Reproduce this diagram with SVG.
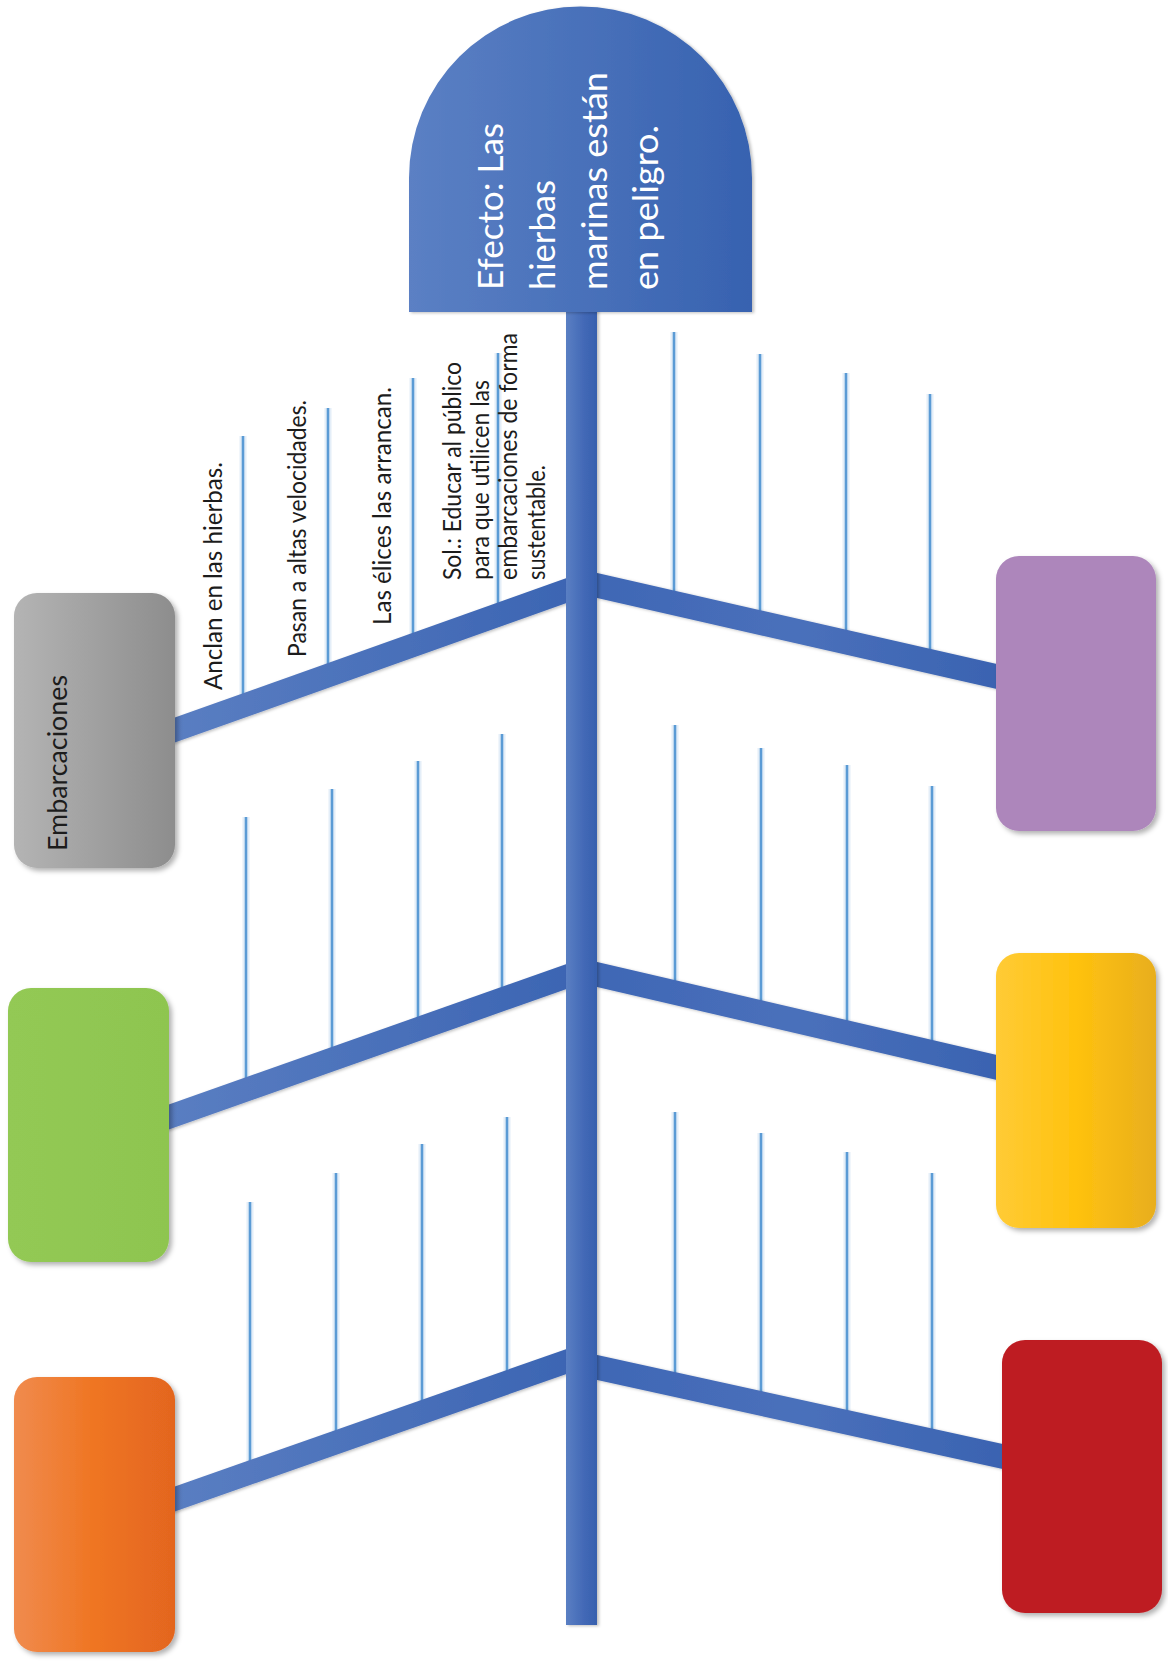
<svg xmlns="http://www.w3.org/2000/svg" width="1168" height="1661" viewBox="0 0 1168 1661">
  <defs>
    <linearGradient id="gHead" x1="0" y1="0" x2="1" y2="0">
      <stop offset="0" stop-color="#5b80c4"/>
      <stop offset="1" stop-color="#3762b0"/>
    </linearGradient>
    <linearGradient id="gSpine" x1="0" y1="0" x2="1" y2="0">
      <stop offset="0" stop-color="#5a7fc3"/>
      <stop offset="0.6" stop-color="#4268b6"/>
      <stop offset="1" stop-color="#3760ae"/>
    </linearGradient>
    <linearGradient id="gBarL" x1="0" y1="0" x2="1" y2="0">
      <stop offset="0" stop-color="#5a7ec2"/>
      <stop offset="1" stop-color="#3c65b3"/>
    </linearGradient>
    <linearGradient id="gBarR" x1="0" y1="0" x2="1" y2="0">
      <stop offset="0" stop-color="#3f67b5"/>
      <stop offset="0.5" stop-color="#4a70bb"/>
      <stop offset="1" stop-color="#3a63b1"/>
    </linearGradient>
    <linearGradient id="gGray" x1="0" y1="0" x2="1" y2="0">
      <stop offset="0" stop-color="#b4b4b4"/>
      <stop offset="1" stop-color="#8d8d8d"/>
    </linearGradient>
    <linearGradient id="gOrange" x1="0" y1="0" x2="1" y2="0">
      <stop offset="0" stop-color="#f08b4e"/>
      <stop offset="0.5" stop-color="#ef7522"/>
      <stop offset="1" stop-color="#e3651f"/>
    </linearGradient>
    <linearGradient id="gYellow" x1="0" y1="0" x2="1" y2="0">
      <stop offset="0" stop-color="#ffcb36"/>
      <stop offset="0.5" stop-color="#ffc20e"/>
      <stop offset="1" stop-color="#e8ae1e"/>
    </linearGradient>
    <linearGradient id="gGreen" x1="0" y1="0" x2="1" y2="0">
      <stop offset="0" stop-color="#93c954"/>
      <stop offset="1" stop-color="#8ec550"/>
    </linearGradient>
    <filter id="shadow" x="-10%" y="-10%" width="130%" height="130%">
      <feDropShadow dx="3" dy="3" stdDeviation="2.5" flood-color="#000" flood-opacity="0.3"/>
    </filter>
    <filter id="soft" x="-20%" y="-5%" width="140%" height="110%">
      <feDropShadow dx="2" dy="1" stdDeviation="1.5" flood-color="#000" flood-opacity="0.25"/>
    </filter>
  </defs>
  <style>
    .rib { stroke: #5b9bd5; stroke-width: 2.6; fill: none; }
    .halo { stroke: #e4eef8; stroke-width: 7; fill: none; }
    .label { font-family: Lato, "Open Sans", sans-serif; font-size: 24.5px; fill: #1c1c1c; }
    .head-text { font-family: Lato, "Open Sans", sans-serif; font-size: 35px; fill: #ffffff; }
    .box { filter: url(#shadow); }
  </style>
  <rect width="1168" height="1661" fill="#ffffff"/>

  <!-- connectors: ribs, branch bars and spine -->
  <g id="connectors">
    <g id="ribs">
      <!-- left upper -->
      <line class="halo" x1="243" y1="436" x2="243" y2="700"/>
      <line class="halo" x1="328" y1="408" x2="328" y2="670"/>
      <line class="halo" x1="413" y1="378" x2="413" y2="640"/>
      <line class="halo" x1="498" y1="353" x2="498" y2="610"/>
      <line class="rib" x1="243" y1="436" x2="243" y2="700"/>
      <line class="rib" x1="328" y1="408" x2="328" y2="670"/>
      <line class="rib" x1="413" y1="378" x2="413" y2="640"/>
      <line class="rib" x1="498" y1="353" x2="498" y2="610"/>
      <!-- left middle -->
      <line class="halo" x1="246" y1="817" x2="246" y2="1090"/>
      <line class="halo" x1="332" y1="789" x2="332" y2="1060"/>
      <line class="halo" x1="418" y1="761" x2="418" y2="1030"/>
      <line class="halo" x1="502" y1="734" x2="502" y2="1000"/>
      <line class="rib" x1="246" y1="817" x2="246" y2="1090"/>
      <line class="rib" x1="332" y1="789" x2="332" y2="1060"/>
      <line class="rib" x1="418" y1="761" x2="418" y2="1030"/>
      <line class="rib" x1="502" y1="734" x2="502" y2="1000"/>
      <!-- left lower -->
      <line class="halo" x1="250" y1="1202" x2="250" y2="1470"/>
      <line class="halo" x1="336" y1="1173" x2="336" y2="1440"/>
      <line class="halo" x1="422" y1="1144" x2="422" y2="1410"/>
      <line class="halo" x1="507" y1="1117" x2="507" y2="1380"/>
      <line class="rib" x1="250" y1="1202" x2="250" y2="1470"/>
      <line class="rib" x1="336" y1="1173" x2="336" y2="1440"/>
      <line class="rib" x1="422" y1="1144" x2="422" y2="1410"/>
      <line class="rib" x1="507" y1="1117" x2="507" y2="1380"/>
      <!-- right upper -->
      <line class="halo" x1="674" y1="332" x2="674" y2="600"/>
      <line class="halo" x1="760" y1="354" x2="760" y2="620"/>
      <line class="halo" x1="846" y1="373" x2="846" y2="640"/>
      <line class="halo" x1="930" y1="394" x2="930" y2="660"/>
      <line class="rib" x1="674" y1="332" x2="674" y2="600"/>
      <line class="rib" x1="760" y1="354" x2="760" y2="620"/>
      <line class="rib" x1="846" y1="373" x2="846" y2="640"/>
      <line class="rib" x1="930" y1="394" x2="930" y2="660"/>
      <!-- right middle -->
      <line class="halo" x1="675" y1="725" x2="675" y2="990"/>
      <line class="halo" x1="761" y1="748" x2="761" y2="1010"/>
      <line class="halo" x1="847" y1="765" x2="847" y2="1030"/>
      <line class="halo" x1="932" y1="786" x2="932" y2="1050"/>
      <line class="rib" x1="675" y1="725" x2="675" y2="990"/>
      <line class="rib" x1="761" y1="748" x2="761" y2="1010"/>
      <line class="rib" x1="847" y1="765" x2="847" y2="1030"/>
      <line class="rib" x1="932" y1="786" x2="932" y2="1050"/>
      <!-- right lower -->
      <line class="halo" x1="675" y1="1112" x2="675" y2="1385"/>
      <line class="halo" x1="761" y1="1133" x2="761" y2="1405"/>
      <line class="halo" x1="847" y1="1152" x2="847" y2="1425"/>
      <line class="halo" x1="932" y1="1173" x2="932" y2="1445"/>
      <line class="rib" x1="675" y1="1112" x2="675" y2="1385"/>
      <line class="rib" x1="761" y1="1133" x2="761" y2="1405"/>
      <line class="rib" x1="847" y1="1152" x2="847" y2="1425"/>
      <line class="rib" x1="932" y1="1173" x2="932" y2="1445"/>
    </g>
    <g id="bars" filter="url(#soft)">
      <polygon fill="url(#gBarL)" points="172,718.5 568,577.5 568,602.5 172,743.5"/>
      <polygon fill="url(#gBarL)" points="166,1105.5 568,963.5 568,988.5 166,1130.5"/>
      <polygon fill="url(#gBarL)" points="172,1487.5 568,1348.5 568,1373.5 172,1512.5"/>
      <polygon fill="url(#gBarR)" points="595,572.5 999,664.5 999,689.5 595,597.5"/>
      <polygon fill="url(#gBarR)" points="595,961.5 999,1055.5 999,1080.5 595,986.5"/>
      <polygon fill="url(#gBarR)" points="595,1354.5 1005,1444.5 1005,1469.5 595,1379.5"/>
    </g>
    <rect id="spine" x="566" y="300" width="31" height="1325" fill="url(#gSpine)" filter="url(#soft)"/>
  </g>

  <!-- effect head -->
  <g id="head">
    <path d="M409,312 V178 A171.5,171.5 0 0 1 752,178 V312 Z" fill="url(#gHead)" filter="url(#soft)"/>
    <text class="head-text" transform="translate(503,290) rotate(-90)" textLength="167" lengthAdjust="spacingAndGlyphs">Efecto: Las</text>
    <text class="head-text" transform="translate(555,290) rotate(-90)" textLength="110" lengthAdjust="spacingAndGlyphs">hierbas</text>
    <text class="head-text" transform="translate(607,290) rotate(-90)" textLength="218" lengthAdjust="spacingAndGlyphs">marinas están</text>
    <text class="head-text" transform="translate(658,290) rotate(-90)" textLength="165" lengthAdjust="spacingAndGlyphs">en peligro.</text>
  </g>

  <!-- cause categories -->
  <g id="cause-embarcaciones">
    <rect class="box" x="14" y="593" width="161" height="275" rx="23" fill="url(#gGray)"/>
    <text class="label" style="font-size:26.5px" transform="translate(67,851) rotate(-90)" textLength="176" lengthAdjust="spacingAndGlyphs">Embarcaciones</text>
  </g>
  <g id="cause-green">
    <rect class="box" x="8" y="988" width="161" height="274" rx="23" fill="url(#gGreen)"/>
  </g>
  <g id="cause-orange">
    <rect class="box" x="14" y="1377" width="161" height="275" rx="23" fill="url(#gOrange)"/>
  </g>
  <g id="cause-purple">
    <rect class="box" x="996" y="556" width="160" height="275" rx="23" fill="#ad86bb"/>
  </g>
  <g id="cause-yellow">
    <rect class="box" x="996" y="953" width="160" height="275" rx="23" fill="url(#gYellow)"/>
  </g>
  <g id="cause-red">
    <rect class="box" x="1002" y="1340" width="160" height="273" rx="23" fill="#be1e24"/>
  </g>

  <!-- sub-cause labels on the upper left branch -->
  <g id="labels">
    <text class="label" transform="translate(222,690) rotate(-90)" textLength="228" lengthAdjust="spacingAndGlyphs">Anclan en las hierbas.</text>
    <text class="label" transform="translate(306,657) rotate(-90)" textLength="257" lengthAdjust="spacingAndGlyphs">Pasan a altas velocidades.</text>
    <text class="label" transform="translate(391,625) rotate(-90)" textLength="238" lengthAdjust="spacingAndGlyphs">Las élices las arrancan.</text>
    <text class="label" transform="translate(461,580) rotate(-90)" textLength="218" lengthAdjust="spacingAndGlyphs">Sol.: Educar al público</text>
    <text class="label" transform="translate(489,580) rotate(-90)" textLength="200" lengthAdjust="spacingAndGlyphs">para que utilicen las</text>
    <text class="label" transform="translate(517,580) rotate(-90)" textLength="247" lengthAdjust="spacingAndGlyphs">embarcaciones de forma</text>
    <text class="label" transform="translate(545,580) rotate(-90)" textLength="115" lengthAdjust="spacingAndGlyphs">sustentable.</text>
  </g>
</svg>
